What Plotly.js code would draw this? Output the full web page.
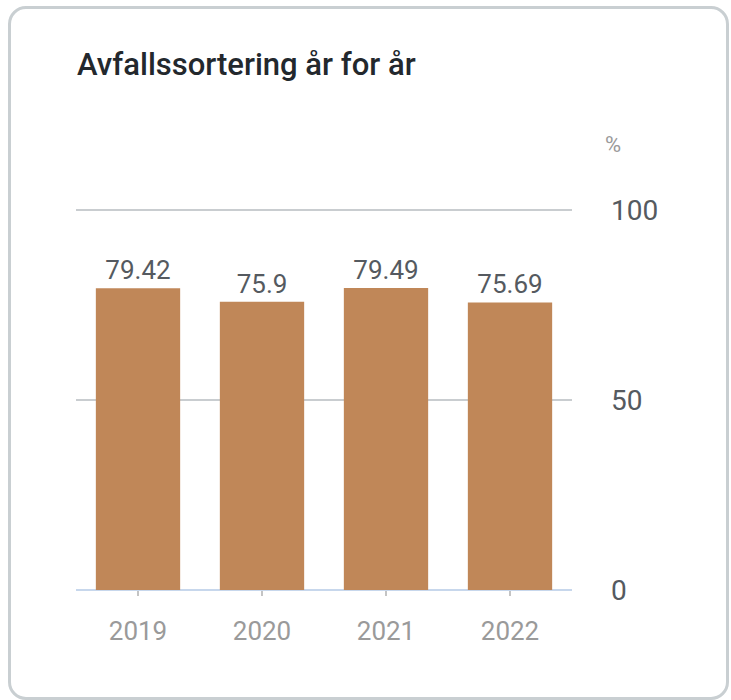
<!DOCTYPE html>
<html>
<head>
<meta charset="utf-8">
<script src="https://cdn.plot.ly/plotly-3.0.1.min.js"></script>
<style>
  html, body { margin: 0; padding: 0; background: #ffffff; }
  #wrap { position: relative; width: 731px; height: 700px; }
  #chart { position: absolute; left: 0; top: 0; width: 731px; height: 700px; }
  #card { position: absolute; left: 8px; top: 6px; width: 715px; height: 688px;
          border: 3px solid #c9cfd2; border-radius: 18px; pointer-events: none; }
</style>
</head>
<body>
<div id="wrap">
  <div id="chart"></div>
  <div id="card"></div>
</div>
<script>
const years = ['2019', '2020', '2021', '2022'];
const sortingShare = [79.42, 75.9, 79.49, 75.69];
const valueLabels = ['79.42', '75.9', '79.49', '75.69'];
const yTickValues = [0, 50, 100];

const font = 'Roboto, "Open Sans", sans-serif';

const trace = {
  type: 'bar',
  x: years,
  y: sortingShare,
  text: valueLabels,
  textposition: 'outside',
  textfont: { family: font, size: 26, color: '#555a60' },
  marker: { color: '#c08758' },
  cliponaxis: false,
  hoverinfo: 'none'
};

const layout = {
  width: 731,
  height: 700,
  paper_bgcolor: 'rgba(0,0,0,0)',
  plot_bgcolor: 'rgba(0,0,0,0)',
  margin: { l: 76, r: 159, t: 208, b: 110 },
  bargap: 0.32,
  showlegend: false,
  title: {
    text: 'Avfallssortering år for år',
    xref: 'container', yref: 'container',
    x: 77 / 731, xanchor: 'left',
    y: 1 - 64 / 700, yanchor: 'middle',
    font: { family: font, size: 31, weight: 500, color: '#23282d' }
  },
  xaxis: {
    type: 'category',
    showgrid: false,
    zeroline: false,
    showline: false,
    ticks: 'outside',
    ticklen: 5,
    tickwidth: 2,
    tickcolor: '#c4c4c4',
    ticklabelstandoff: 13,
    tickfont: { family: font, size: 26, color: '#9a9a9a' }
  },
  yaxis: {
    side: 'right',
    range: [0, 100.55],
    tickvals: yTickValues,
    ticktext: yTickValues.map(String),
    showgrid: true,
    gridcolor: '#c9cdd0',
    gridwidth: 2,
    zeroline: true,
    zerolinecolor: '#c7d7ec',
    zerolinewidth: 2,
    showline: false,
    ticks: '',
    ticklabelstandoff: 38,
    tickfont: { family: font, size: 28, color: '#555a60' }
  },
  annotations: [{
    text: '%',
    xref: 'paper', yref: 'paper',
    x: (613 - 76) / 496, y: (590 - 147) / 382 * 100.55 / 100,
    xanchor: 'center', yanchor: 'middle',
    showarrow: false,
    font: { family: font, size: 22, color: '#9a9a9a' }
  }]
};

Plotly.newPlot('chart', [trace], layout, { displayModeBar: false, staticPlot: true });
</script>
</body>
</html>
